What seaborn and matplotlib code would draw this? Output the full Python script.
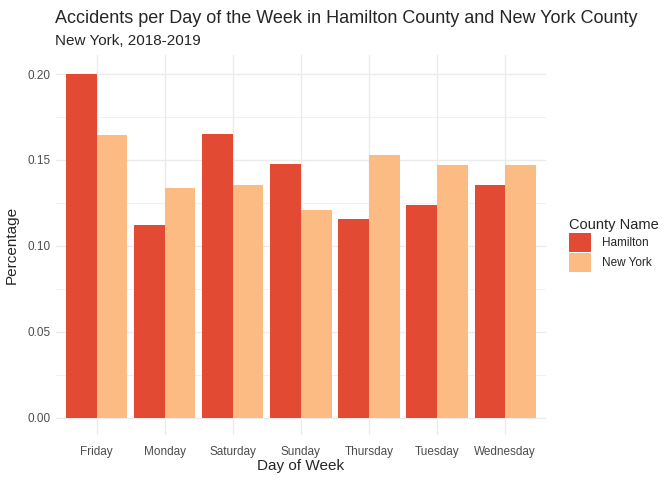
import pandas as pd
import numpy as np
import matplotlib.pyplot as plt
import seaborn as sns
from matplotlib.patches import Patch
from matplotlib.ticker import MultipleLocator

days = ['Friday', 'Monday', 'Saturday', 'Sunday', 'Thursday', 'Tuesday', 'Wednesday']
hamilton = [0.200, 0.1123, 0.1650, 0.1475, 0.1157, 0.1238, 0.1353]
new_york = [0.1644, 0.1336, 0.1353, 0.1208, 0.1529, 0.1470, 0.1470]
counties = ['Hamilton', 'New York']
colors = ['#E34A33', '#FDBB84']

df = pd.DataFrame({
    'day': days * 2,
    'county': ['Hamilton'] * len(days) + ['New York'] * len(days),
    'pct': hamilton + new_york,
})

sns.set_style('white')
plt.rcParams['font.family'] = ['Liberation Sans', 'DejaVu Sans']

fig = plt.figure(figsize=(6.72, 4.8), dpi=100)
ax = fig.add_axes([0.083, 0.094, 0.7295, 0.791])

sns.barplot(data=df, x='day', y='pct', hue='county', order=days,
            hue_order=counties, palette=colors, width=0.9, saturation=1,
            errorbar=None, legend=False, ax=ax, zorder=3)

for p in ax.patches:
    p.set_edgecolor('none')

ax.set_xlim(-0.6, 6.6)
ax.set_ylim(-0.01, 0.211)
ax.yaxis.set_major_locator(MultipleLocator(0.05))
ax.yaxis.set_minor_locator(MultipleLocator(0.025))
ax.set_yticks([0, 0.05, 0.10, 0.15, 0.20])
ax.set_yticklabels(['0.00', '0.05', '0.10', '0.15', '0.20'])
ax.grid(which='major', color='#EBEBEB', linewidth=1.0, zorder=0)
ax.grid(which='minor', axis='y', color='#EBEBEB', linewidth=0.5, zorder=0)
ax.set_axisbelow(True)
for s in ax.spines.values():
    s.set_visible(False)
ax.tick_params(axis='both', which='both', length=0, labelsize=8.5,
               labelcolor='#4D4D4D', pad=4)
ax.tick_params(axis='x', pad=8)

ax.set_xlabel('Day of Week', fontsize=11, labelpad=1)
ax.set_ylabel('Percentage', fontsize=11, labelpad=6)

fig.text(0.082, 0.962, 'Accidents per Day of the Week in Hamilton County and New York County',
         fontsize=13, va='center', ha='left')
fig.text(0.082, 0.914, 'New York, 2018-2019', fontsize=11, va='center', ha='left')

handles = [Patch(facecolor=c, edgecolor='none') for c in colors]
fig.legend(handles, counties, title='County Name', loc='center left',
           bbox_to_anchor=(0.843, 0.49), frameon=False, fontsize=8.5,
           title_fontsize=10.5, handlelength=1.9, handleheight=2.1,
           handletextpad=0.9, labelspacing=0.1, alignment='left',
           borderpad=0.2, borderaxespad=0)

fig.savefig('out.png', dpi=100)
